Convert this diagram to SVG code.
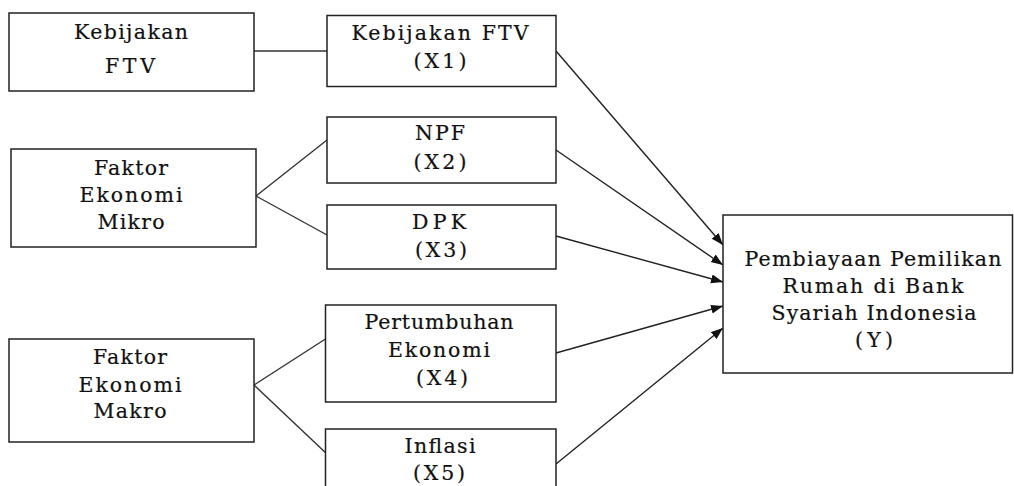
<svg xmlns="http://www.w3.org/2000/svg" width="1014" height="486" viewBox="0 0 1014 486">
<style>
.box{fill:#fff;stroke:#222;stroke-width:1.5}
.t{font-family:"DejaVu Serif","Liberation Serif",serif;font-size:20.5px;fill:#111;stroke:#111;stroke-width:0.2;text-anchor:middle}
.ln{stroke:#333;stroke-width:1.4;fill:none}
.ar{stroke:#222;stroke-width:1.4;fill:none;marker-end:url(#ah)}
</style>
<defs>
<marker id="ah" markerUnits="userSpaceOnUse" markerWidth="13" markerHeight="10" refX="12" refY="4.5" orient="auto">
<path d="M0,0 L12,4.5 L0,9 z" fill="#111"/>
</marker>
</defs>
<rect width="1014" height="486" fill="#fff"/>
<g id="connectors">
<line class="ln" x1="254" y1="51" x2="327" y2="51"/>
<line class="ln" x1="256" y1="196" x2="327" y2="140"/>
<line class="ln" x1="256" y1="196" x2="327" y2="235"/>
<line class="ln" x1="254" y1="385" x2="327" y2="338"/>
<line class="ln" x1="254" y1="385" x2="328" y2="455"/>
<line class="ar" x1="556" y1="51" x2="723" y2="245"/>
<line class="ar" x1="556" y1="150" x2="723" y2="265"/>
<line class="ar" x1="556" y1="236" x2="723" y2="282"/>
<line class="ar" x1="556" y1="353" x2="723" y2="306"/>
<line class="ar" x1="556" y1="464" x2="723" y2="328"/>
</g>
<g id="kebijakan-ftv">
<rect class="box" x="9" y="13" width="245" height="78"/>
<text class="t" x="131" y="39" textLength="114" lengthAdjust="spacing">Kebijakan</text>
<text class="t" x="130" y="73" textLength="50" lengthAdjust="spacing">FTV</text>
</g>
<g id="faktor-mikro">
<rect class="box" x="11" y="149" width="245" height="98"/>
<text class="t" x="131" y="175" textLength="74" lengthAdjust="spacing">Faktor</text>
<text class="t" x="131" y="202" textLength="103" lengthAdjust="spacing">Ekonomi</text>
<text class="t" x="131" y="229" textLength="67" lengthAdjust="spacing">Mikro</text>
</g>
<g id="faktor-makro">
<rect class="box" x="9" y="339" width="245" height="103"/>
<text class="t" x="130" y="364" textLength="74" lengthAdjust="spacing">Faktor</text>
<text class="t" x="130" y="392" textLength="103" lengthAdjust="spacing">Ekonomi</text>
<text class="t" x="130" y="418" textLength="73" lengthAdjust="spacing">Makro</text>
</g>
<g id="x1">
<rect class="box" x="327" y="15.5" width="229" height="71"/>
<text class="t" x="440" y="40" textLength="177" lengthAdjust="spacing">Kebijakan FTV</text>
<text class="t" x="440" y="68" textLength="53" lengthAdjust="spacing">(X1)</text>
</g>
<g id="x2">
<rect class="box" x="327" y="117" width="229" height="66"/>
<text class="t" x="440" y="140" textLength="50" lengthAdjust="spacing">NPF</text>
<text class="t" x="440" y="169" textLength="53" lengthAdjust="spacing">(X2)</text>
</g>
<g id="x3">
<rect class="box" x="327" y="205" width="229" height="64"/>
<text class="t" x="439" y="229" textLength="54" lengthAdjust="spacing">DPK</text>
<text class="t" x="441" y="257" textLength="52" lengthAdjust="spacing">(X3)</text>
</g>
<g id="x4">
<rect class="box" x="325.5" y="305" width="230.5" height="97"/>
<text class="t" x="439" y="329" textLength="149" lengthAdjust="spacing">Pertumbuhan</text>
<text class="t" x="439" y="357" textLength="102" lengthAdjust="spacing">Ekonomi</text>
<text class="t" x="442" y="385" textLength="52" lengthAdjust="spacing">(X4)</text>
</g>
<g id="x5">
<rect class="box" x="325.5" y="429" width="230.5" height="70"/>
<text class="t" x="440" y="453" textLength="71" lengthAdjust="spacing">Inflasi</text>
<text class="t" x="439" y="480" textLength="52" lengthAdjust="spacing">(X5)</text>
</g>
<g id="y">
<rect class="box" x="723" y="215" width="289.5" height="158"/>
<text class="t" x="873" y="266" textLength="257" lengthAdjust="spacing">Pembiayaan Pemilikan</text>
<text class="t" x="873" y="293" textLength="181" lengthAdjust="spacing">Rumah di Bank</text>
<text class="t" x="874" y="320" textLength="205" lengthAdjust="spacing">Syariah Indonesia</text>
<text class="t" x="874" y="347" textLength="38" lengthAdjust="spacing">(Y)</text>
</g>
</svg>
